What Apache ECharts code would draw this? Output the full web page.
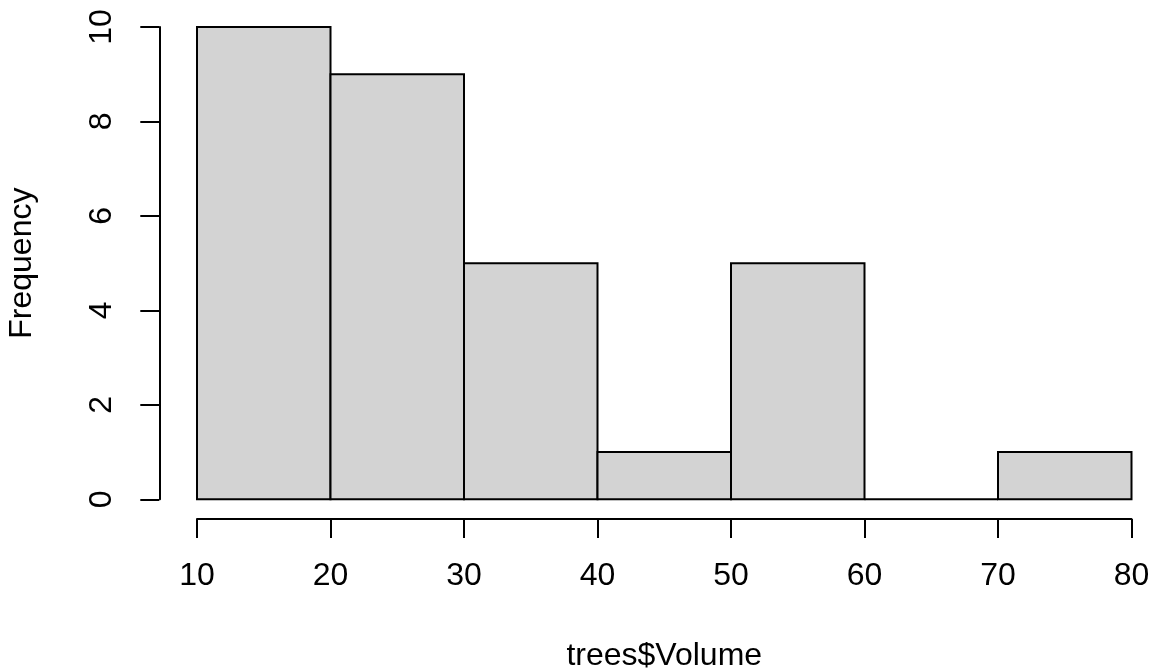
<!DOCTYPE html>
<html>
<head>
<meta charset="utf-8">
<title>Histogram of trees$Volume</title>
<script src="https://cdn.jsdelivr.net/npm/echarts@6/dist/echarts.min.js"></script>
<style>
  html, body { margin: 0; padding: 0; background: #ffffff; }
  #chart { width: 1155px; height: 670px; }
</style>
</head>
<body>
<div id="chart"></div>
<script>
// Histogram bin edges and counts for trees$Volume
const breaks = [10, 20, 30, 40, 50, 60, 70, 80];
const counts = [10, 9, 5, 1, 5, 0, 1];
const xTitle = 'trees$Volume';
const yTitle = 'Frequency';

const bins = counts.map((c, i) => [breaks[i], breaks[i + 1], c]);

const FONT = '"Liberation Sans", Arial, Helvetica, sans-serif';
const axisLine = { show: true, onZero: false, lineStyle: { color: '#000', width: 2 } };

const chart = echarts.init(document.getElementById('chart'), null, { renderer: 'canvas' });

chart.setOption({
  backgroundColor: '#ffffff',
  animation: false,
  grid: {
    left: 197, right: 23.5, top: 27, bottom: 170.7,
    containLabel: false,
    outerBoundsMode: 'none'
  },
  xAxis: {
    type: 'value',
    min: breaks[0],
    max: breaks[breaks.length - 1],
    interval: 10,
    offset: 19.7,
    axisLine: axisLine,
    axisTick: { show: true, inside: false, length: 19, lineStyle: { color: '#000', width: 2 } },
    axisLabel: { show: true, margin: 41, color: '#000', fontFamily: FONT, fontSize: 32, lineHeight: 32 },
    splitLine: { show: false },
    name: xTitle,
    nameLocation: 'middle',
    nameGap: 121,
    nameTextStyle: { color: '#000', fontFamily: FONT, fontSize: 32, lineHeight: 32 }
  },
  yAxis: {
    type: 'value',
    min: 0,
    max: 10,
    interval: 2,
    offset: 37.7,
    axisLine: axisLine,
    axisTick: { show: true, inside: false, length: 19, lineStyle: { color: '#000', width: 2 } },
    axisLabel: { show: true, rotate: 90, margin: 41, color: '#000', fontFamily: FONT, fontSize: 32, lineHeight: 32 },
    splitLine: { show: false },
    name: yTitle,
    nameLocation: 'middle',
    nameRotate: 90,
    nameGap: 121,
    nameTextStyle: { color: '#000', fontFamily: FONT, fontSize: 32, lineHeight: 32 }
  },
  series: [{
    type: 'custom',
    clip: false,
    data: bins,
    encode: { x: [0, 1], y: 2 },
    // Each bin is an outlined box; an empty bin collapses to a flat line on the baseline
    renderItem: function (params, api) {
      const x0 = api.value(0), x1 = api.value(1), c = api.value(2);
      const a = api.coord([x0, c]);
      const b = api.coord([x1, 0]);
      return {
        type: 'polygon',
        shape: { points: [[a[0], a[1]], [b[0], a[1]], [b[0], b[1]], [a[0], b[1]]] },
        style: { fill: '#d3d3d3', stroke: '#000', lineWidth: 2, lineJoin: 'miter' }
      };
    }
  }]
});
</script>
</body>
</html>
